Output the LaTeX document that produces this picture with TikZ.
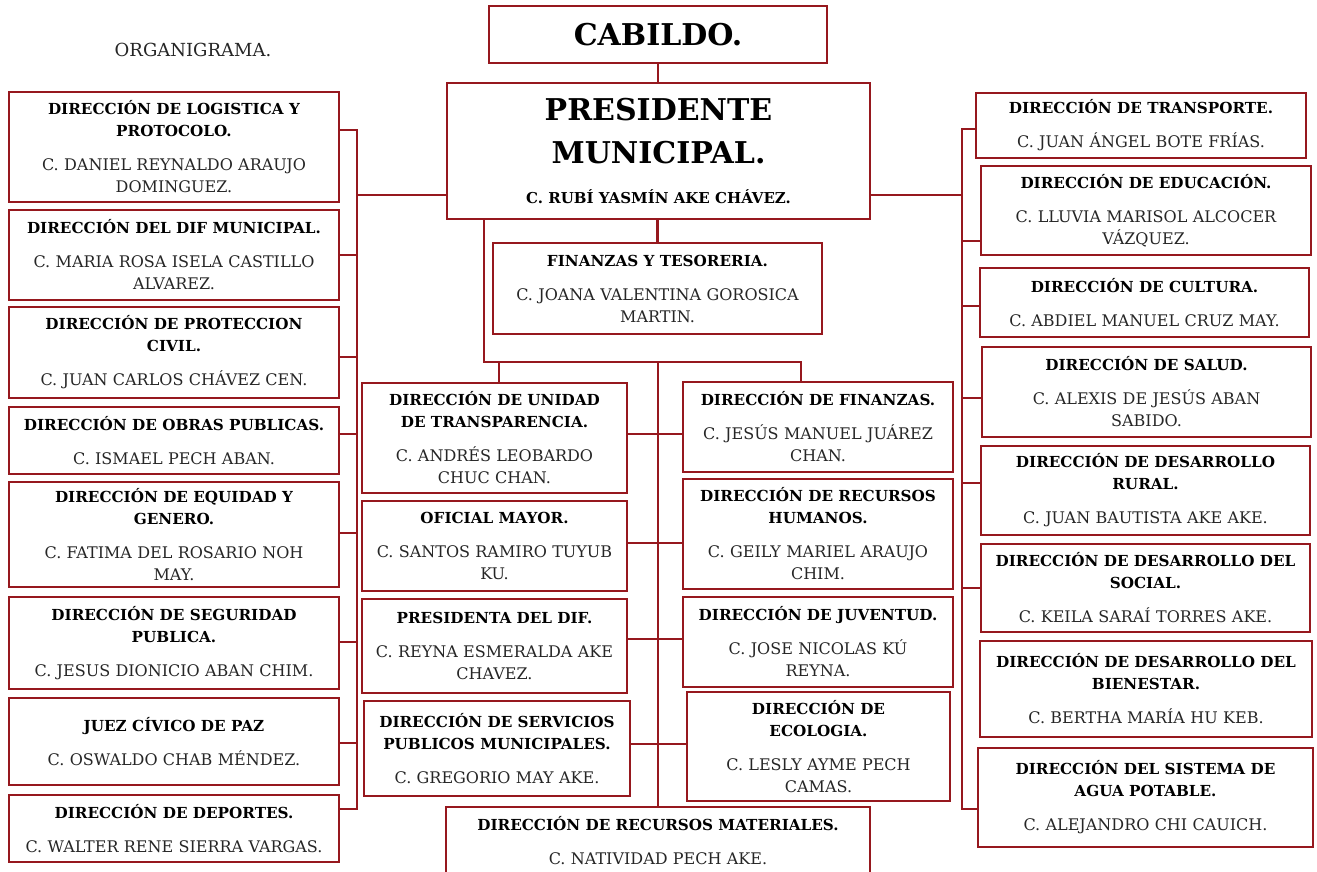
\documentclass[tikz,border=0pt]{standalone}
\usepackage{fontspec}
\setmainfont{DejaVu Serif}
\definecolor{guinda}{RGB}{150,24,30}
\begin{document}
\begin{tikzpicture}[x=1pt, y=-1pt,
  unit/.style={draw=guinda, line width=2.8pt, rectangle, align=center,
    inner xsep=0pt, inner ysep=2pt, font=\nm, text=black!85},
  w/.style={minimum width=#1, text width=#1},
  link/.style={draw=guinda, line width=2.8pt}]

\def \hd {\fontsize{15.2}{22}\selectfont\bfseries\color{black}}
\def \nm {\fontsize{16}{22}\selectfont}
\def \gap {\vspace{12pt}}
\clip (0,0) rectangle (1317,871);
\fill[white] (0,0) rectangle (1317,871);

  \node[font=\fontsize{18}{20}\selectfont, text=black!85] (titulo) at (193,50) {ORGANIGRAMA.};
%
  \node[unit, w=338pt, minimum height=57pt, font=\fontsize{30}{34}\selectfont\bfseries, text=black] (cab) at (658,34.5) {CABILDO.};
  \node[unit, w=423pt, minimum height=136pt] (pres) at (658.5,151)
    {{\fontsize{30}{43}\selectfont\bfseries\color{black}PRESIDENTE\\MUNICIPAL.\par}{\fontsize{15}{40}\selectfont\bfseries\color{black}C. RUBÍ YASMÍN AKE CHÁVEZ.\par}};
  \node[unit, w=329pt, minimum height=91pt] (fintes) at (657.5,288.5)
    {{\hd FINANZAS Y TESORERIA.\par}\gap C. JOANA VALENTINA GOROSICA\\MARTIN.};
%
% columna izquierda
  \node[unit, w=330pt, minimum height=110pt] (logis) at (174,147)
    {{\hd DIRECCIÓN DE LOGISTICA Y\\PROTOCOLO.\par}\gap C. DANIEL REYNALDO ARAUJO\\DOMINGUEZ.};
  \node[unit, w=330pt, minimum height=90pt] (dif) at (174,255)
    {{\hd DIRECCIÓN DEL DIF MUNICIPAL.\par}\gap C. MARIA ROSA ISELA CASTILLO\\ALVAREZ.};
  \node[unit, w=330pt, minimum height=91pt] (protec) at (174,352.5)
    {{\hd DIRECCIÓN DE PROTECCION\\CIVIL.\par}\gap C. JUAN CARLOS CHÁVEZ CEN.};
  \node[unit, w=330pt, minimum height=67pt] (obras) at (174,440.5)
    {{\hd DIRECCIÓN DE OBRAS PUBLICAS.\par}\gap C. ISMAEL PECH ABAN.};
  \node[unit, w=330pt, minimum height=105pt] (equidad) at (174,534.5)
    {{\hd DIRECCIÓN DE EQUIDAD Y\\GENERO.\par}\gap C. FATIMA DEL ROSARIO NOH\\MAY.};
  \node[unit, w=330pt, minimum height=92pt] (segur) at (174,643)
    {{\hd DIRECCIÓN DE SEGURIDAD\\PUBLICA.\par}\gap C. JESUS DIONICIO ABAN CHIM.};
  \node[unit, w=330pt, minimum height=87pt] (juez) at (174,741.5)
    {{\hd JUEZ CÍVICO DE PAZ\par}\gap C. OSWALDO CHAB MÉNDEZ.\\[6pt]};
  \node[unit, w=330pt, minimum height=67pt] (deport) at (174,828.5)
    {{\hd DIRECCIÓN DE DEPORTES.\par}\gap C. WALTER RENE SIERRA VARGAS.};
%
% columna derecha
  \node[unit, w=330pt, minimum height=65pt] (transp) at (1141,125.5)
    {{\hd DIRECCIÓN DE TRANSPORTE.\par}\gap C. JUAN ÁNGEL BOTE FRÍAS.};
  \node[unit, w=330pt, minimum height=89pt] (educa) at (1146,210.5)
    {{\hd DIRECCIÓN DE EDUCACIÓN.\par}\gap C. LLUVIA MARISOL ALCOCER\\VÁZQUEZ.};
  \node[unit, w=329pt, minimum height=69pt] (cultura) at (1144.5,302.5)
    {{\hd DIRECCIÓN DE CULTURA.\par}\gap C. ABDIEL MANUEL CRUZ MAY.};
  \node[unit, w=329pt, minimum height=90pt] (salud) at (1146.5,392)
    {{\hd DIRECCIÓN DE SALUD.\par}\gap C. ALEXIS DE JESÚS ABAN\\SABIDO.};
  \node[unit, w=329pt, minimum height=89pt] (rural) at (1145.5,490.5)
    {{\hd DIRECCIÓN DE DESARROLLO\\RURAL.\par}\gap C. JUAN BAUTISTA AKE AKE.};
  \node[unit, w=329pt, minimum height=88pt] (social) at (1145.5,588)
    {{\hd DIRECCIÓN DE DESARROLLO DEL\\SOCIAL.\par}\gap C. KEILA SARAÍ TORRES AKE.};
  \node[unit, w=332pt, minimum height=96pt] (bienes) at (1146,689)
    {{\hd DIRECCIÓN DE DESARROLLO DEL\\BIENESTAR.\par}\gap C. BERTHA MARÍA HU KEB.};
  \node[unit, w=335pt, minimum height=99pt] (agua) at (1145.5,797.5)
    {{\hd DIRECCIÓN DEL SISTEMA DE\\AGUA POTABLE.\par}\gap C. ALEJANDRO CHI CAUICH.};
%
% centro
  \node[unit, w=265pt, minimum height=110pt] (unidad) at (494.5,438)
    {{\hd DIRECCIÓN DE UNIDAD\\DE TRANSPARENCIA.\par}\gap C. ANDRÉS LEOBARDO\\CHUC CHAN.};
  \node[unit, w=265pt, minimum height=90pt] (oficial) at (494.5,546)
    {{\hd OFICIAL MAYOR.\par}\gap C. SANTOS RAMIRO TUYUB\\KU.};
  \node[unit, w=265pt, minimum height=94pt] (presdif) at (494.5,646)
    {{\hd PRESIDENTA DEL DIF.\par}\gap C. REYNA ESMERALDA AKE\\CHAVEZ.};
  \node[unit, w=266pt, minimum height=95pt] (servic) at (497,748.5)
    {{\hd DIRECCIÓN DE SERVICIOS\\PUBLICOS MUNICIPALES.\par}\gap C. GREGORIO MAY AKE.};
  \node[unit, w=270pt, minimum height=90pt] (findir) at (818,427)
    {{\hd DIRECCIÓN DE FINANZAS.\par}\gap C. JESÚS MANUEL JUÁREZ\\CHAN.};
  \node[unit, w=270pt, minimum height=110pt] (rrhh) at (818,534)
    {{\hd DIRECCIÓN DE RECURSOS\\HUMANOS.\par}\gap C. GEILY MARIEL ARAUJO\\CHIM.};
  \node[unit, w=270pt, minimum height=90pt] (juvent) at (818,642)
    {{\hd DIRECCIÓN DE JUVENTUD.\par}\gap C. JOSE NICOLAS KÚ\\REYNA.};
  \node[unit, w=263pt, minimum height=109pt] (ecolog) at (818.5,746.5)
    {{\hd DIRECCIÓN DE\\ECOLOGIA.\par}\gap C. LESLY AYME PECH\\CAMAS.};
  \node[unit, w=424pt, minimum height=67pt] (recmat) at (658,840.5)
    {{\hd DIRECCIÓN DE RECURSOS MATERIALES.\par}\gap C. NATIVIDAD PECH AKE.};
%
% lineas
  \draw[link] (cab.south) -- (cab.south |- pres.north);
  \draw[link] (fintes.north |- pres.south) -- (fintes.north);
%
  \coordinate (lbus) at (357,195);
  \draw[link] (pres.west |- lbus) -- (lbus);
  \draw[link] ([yshift=17pt]logis.east) -- ([yshift=17pt]logis.east -| lbus)
    -- ([yshift=19.5pt]deport.east -| lbus) -- ([yshift=19.5pt]deport.east);
  \foreach \n/\s in {dif/0, protec/-4.5, obras/6.5, equidad/1.5, segur/1, juez/-1.5}
    \draw[link] ([yshift=\s pt]\n.east) -- ([yshift=\s pt]\n.east -| lbus);
%
  \coordinate (rbus) at (962,195);
  \draw[link] (pres.east |- rbus) -- (rbus);
  \draw[link] ([yshift=-3.5pt]transp.west) -- ([yshift=-3.5pt]transp.west -| rbus)
    -- ([yshift=-11.5pt]agua.west -| rbus) -- ([yshift=-11.5pt]agua.west);
  \foreach \n/\s in {educa/-30.5, cultura/-3.5, salud/-6, rural/7.5, social/0}
    \draw[link] ([yshift=\s pt]\n.west) -- ([yshift=\s pt]\n.west -| rbus);
%
  \coordinate (barL) at (484,362);
  \coordinate (barU) at (499,362);
  \coordinate (barC) at (658,362);
  \coordinate (barR) at (801,362);
  \draw[link] (pres.south -| barL) -- (barL) -- (barR) -- (barR |- findir.north);
  \draw[link] (barU) -- (barU |- unidad.north);
  \draw[link] (barC) -- (recmat.north);
  \foreach \a/\b/\s in {unidad/findir/4, oficial/rrhh/3, presdif/juvent/7, servic/ecolog/4.5}
    \draw[link] ([yshift=\s pt]\a.east) -- ([yshift=\s pt]\a.east -| \b.west);
%
\end{tikzpicture}
\end{document}
